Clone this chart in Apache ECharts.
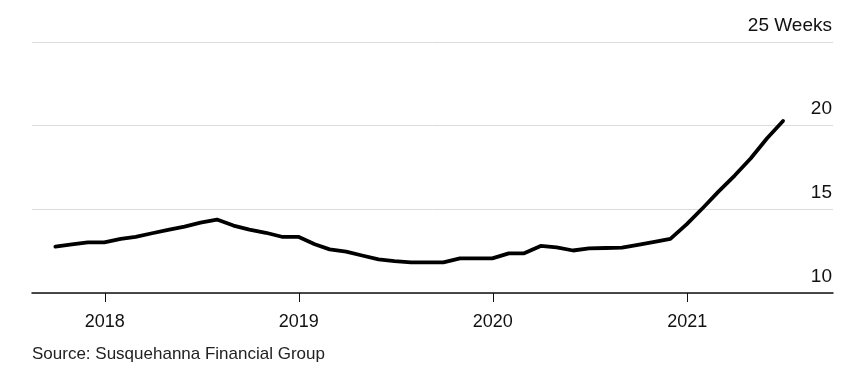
<!DOCTYPE html>
<html>
<head>
<meta charset="utf-8">
<script src="https://cdn.jsdelivr.net/npm/echarts@6/dist/echarts.min.js"></script>
<style>
html,body{margin:0;padding:0;background:#fff;}
#c{width:845px;height:372px;}
</style>
</head>
<body>
<div id="c"></div>
<script>
// Month-end dates
var dates = [
  '2017-09-30','2017-10-31','2017-11-30','2017-12-31',
  '2018-01-31','2018-02-28','2018-03-31','2018-04-30','2018-05-31','2018-06-30',
  '2018-07-31','2018-08-31','2018-09-30','2018-10-31','2018-11-30','2018-12-31',
  '2019-01-31','2019-02-28','2019-03-31','2019-04-30','2019-05-31','2019-06-30',
  '2019-07-31','2019-08-31','2019-09-30','2019-10-31','2019-11-30','2019-12-31',
  '2020-01-31','2020-02-29','2020-03-31','2020-04-30','2020-05-31','2020-06-30',
  '2020-07-31','2020-08-31','2020-09-30','2020-10-31','2020-11-30','2020-12-31',
  '2021-01-31','2021-02-28','2021-03-31','2021-04-30','2021-05-31','2021-06-30'
];
// Lead time in weeks
var weeks = [
  12.77, 12.90, 13.02, 13.02,
  13.24, 13.36, 13.57, 13.77, 13.97, 14.21,
  14.39, 14.03, 13.79, 13.60, 13.36, 13.36,
  12.91, 12.61, 12.47, 12.24, 12.01, 11.91,
  11.83, 11.83, 11.83, 12.07, 12.07, 12.07,
  12.37, 12.37, 12.81, 12.73, 12.54, 12.67,
  12.69, 12.71, 12.88, 13.05, 13.23, 14.12,
  15.11, 16.04, 17.02, 18.04, 19.25, 20.28
];
var yearTicks = [2018, 2019, 2020, 2021];
var yTicks = [10, 15, 20, 25];
var yUnit = 'Weeks';
var sourceText = 'Source: Susquehanna Financial Group';

function ts(s) {
  var p = s.split('-');
  return Date.UTC(+p[0], +p[1] - 1, +p[2]);
}
var seriesData = dates.map(function (d, i) { return [ts(d), weeks[i]]; });
var tickTimes = yearTicks.map(function (y) { return Date.UTC(y, 0, 1); });

var chart = echarts.init(document.getElementById('c'), null, {renderer: 'canvas'});
var font = 'Liberation Sans, Arial, Helvetica, sans-serif';
chart.setOption({
  animation: false,
  backgroundColor: '#ffffff',
  grid: {left: 32, right: 12, top: 42, bottom: 79, containLabel: false},
  xAxis: {
    type: 'value',
    min: Date.UTC(2017, 7, 17),
    max: Date.UTC(2021, 9, 2),
    axisLine: {show: true, lineStyle: {color: '#111', width: 1.5}},
    axisTick: {show: true, customValues: tickTimes, length: 9, lineStyle: {color: '#111', width: 1}},
    axisLabel: {
      customValues: tickTimes,
      formatter: function (v) { return String(new Date(v).getUTCFullYear()); },
      color: '#111', fontSize: 18, fontFamily: font, margin: 20
    },
    splitLine: {show: false}
  },
  yAxis: {
    type: 'value',
    position: 'right',
    min: yTicks[0],
    max: yTicks[yTicks.length - 1],
    interval: 5,
    axisLine: {show: false},
    axisTick: {show: false},
    axisLabel: {
      inside: true,
      margin: 1,
      verticalAlign: 'bottom',
      padding: [0, 0, 7, 0],
      color: '#111', fontSize: 19, fontFamily: font,
      formatter: function (v) { return v === yTicks[yTicks.length - 1] ? v + ' ' + yUnit : String(v); }
    },
    splitLine: {show: true, lineStyle: {color: '#dcdcdc', width: 1}}
  },
  graphic: [{
    type: 'text', left: 32, top: 346,
    style: {text: sourceText, fill: '#222', font: '17px ' + font}
  }],
  series: [{
    type: 'line',
    data: seriesData,
    showSymbol: false,
    lineStyle: {color: '#000', width: 3.8, join: 'round', cap: 'round'},
    z: 5
  }]
});
</script>
</body>
</html>
